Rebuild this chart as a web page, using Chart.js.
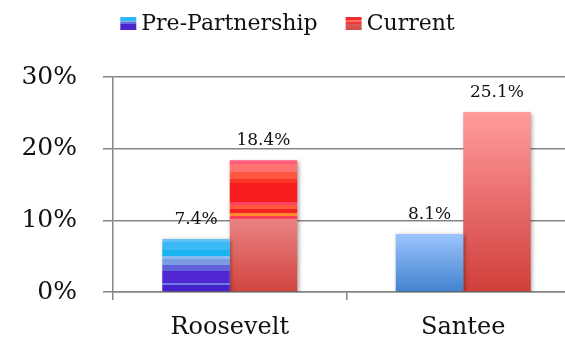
<!DOCTYPE html>
<html>
<head>
<meta charset="utf-8">
<script src="https://cdn.jsdelivr.net/npm/chart.js@4/dist/chart.umd.min.js"></script>
<style>
html, body { margin:0; padding:0; background:#fff; overflow:hidden; }
#contenedor { width:582px; height:338px; position:relative; }
</style>
</head>
<body>
<div id="contenedor"><canvas id="grafico"></canvas></div>
<script>

const escuelas = ["Roosevelt", "Santee"];

const nombresSeries = ["Pre-Partnership", "Current"];

const valoresAntes = [7.4, 8.1];

const valoresActual = [18.4, 25.1];

const marcasY = [0, 10, 20, 30];

const fuente = "\"DejaVu Serif\", serif";

// franjas de cada barra: [desde, hasta, color arriba, color abajo], 0 = tope de la barra
const franjasAntes = [
    [
        [0.00, 0.06, "#62c2f6"],
        [0.06, 0.21, "#3ab9f4"],
        [0.21, 0.33, "#1ab4f2"],
        [0.33, 0.37, "#86bcef"],
        [0.37, 0.50, "#7b9be3"],
        [0.50, 0.60, "#6060da"],
        [0.60, 0.83, "#5127d2"],
        [0.83, 0.87, "#6c7ee2"],
        [0.87, 1.00, "#4622cc"]
    ],
    [
        [0, 1, "#9cc4fc", "#4282d0"]
    ]
];

const franjasActual = [
    [
        [0.00, 0.03, "#ff5a7a"],
        [0.03, 0.09, "#ff7272"],
        [0.09, 0.14, "#ff5a40"],
        [0.14, 0.17, "#fd3428"],
        [0.17, 0.32, "#f71c1e"],
        [0.32, 0.34, "#ff4460"],
        [0.34, 0.37, "#ff5a3c"],
        [0.37, 0.40, "#f42222"],
        [0.40, 0.42, "#ff8a30"],
        [0.42, 0.45, "#ff3c5c"],
        [0.45, 1.00, "#ea8282", "#d0443f"]
    ],
    [
        [0, 1, "#ff9c9c", "#d03e3a"]
    ]
];

const franjasLeyenda = [
    [
        [0.00, 0.30, "#30b6f4"],
        [0.30, 0.40, "#80b0ee"],
        [0.40, 0.50, "#6a6cdc"],
        [0.50, 1.00, "#4a26ce"]
    ],
    [
        [0.00, 0.25, "#f52a2a"],
        [0.25, 0.35, "#ff6a6a"],
        [0.35, 0.55, "#f03a3a"],
        [0.55, 1.00, "#dc5a5a", "#d24a48"]
    ]
];

function gradienteFranjas(ctx, arriba, abajo, franjas){

    const g =
    ctx.createLinearGradient(0, arriba, 0, abajo);

    franjas.forEach(f => {
        g.addColorStop(f[0], f[2]);
        g.addColorStop(f[1], f[3] || f[2]);
    });

    return g;

}

function colorBarra(franjas, respaldo){

    return function(c){

        const chart = c.chart;

        if(!chart.chartArea || c.type !== "data"){
            return respaldo;
        }

        const y = chart.scales.y;

        return gradienteFranjas(
            chart.ctx,
            y.getPixelForValue(c.raw),
            y.getPixelForValue(0),
            franjas[c.dataIndex]
        );

    };

}

// sombra suave bajo las barras
const sombra = {
    id:"sombra",
    beforeDatasetDraw(chart){
        const ctx = chart.ctx;
        ctx.save();
        ctx.shadowColor = "rgba(0,0,0,0.35)";
        ctx.shadowBlur = 4;
        ctx.shadowOffsetX = 1.5;
        ctx.shadowOffsetY = 1.5;
    },
    afterDatasetDraw(chart){
        chart.ctx.restore();
    }
};

// porcentaje encima de cada barra
const etiquetas = {
    id:"etiquetas",
    afterDatasetsDraw(chart){

        const ctx = chart.ctx;

        ctx.save();
        ctx.font = `17px ${fuente}`;
        ctx.fillStyle = "#111";
        ctx.textAlign = "center";
        ctx.textBaseline = "alphabetic";

        chart.data.datasets.forEach((ds, i) => {
            chart.getDatasetMeta(i).data.forEach((barra, j) => {
                ctx.fillText(
                    ds.data[j].toFixed(1) + "%",
                    barra.x,
                    barra.y - 15
                );
            });
        });

        ctx.restore();

    }
};

// leyenda centrada arriba, con la caja pegada al texto
const leyenda = {
    id:"leyenda",
    afterDraw(chart){

        const ctx = chart.ctx;

        ctx.save();
        ctx.font = `22px ${fuente}`;
        ctx.textBaseline = "alphabetic";
        ctx.textAlign = "left";

        const caja = 16;
        const altoCaja = 13;
        const hueco = 5;
        const separacion = 28;
        const base = 30;

        const anchos =
        chart.data.datasets.map(ds => ctx.measureText(ds.label).width);

        const total =
        anchos.reduce((s, a) => s + caja + hueco + a, 0) +
        separacion * (anchos.length - 1);

        let x = 287.5 - total / 2;

        chart.data.datasets.forEach((ds, i) => {

            ctx.fillStyle =
            gradienteFranjas(ctx, base - altoCaja, base, franjasLeyenda[i]);

            ctx.fillRect(x, base - altoCaja, caja, altoCaja);

            x += caja + hueco;

            ctx.fillStyle = "#111";
            ctx.fillText(ds.label, x, base);

            x += anchos[i] + separacion;

        });

        ctx.restore();

    }
};

new Chart(

    document.getElementById("grafico"),

    {

        type:"bar",

        data:{

            labels:escuelas,

            datasets:[
                {
                    label:nombresSeries[0],
                    data:valoresAntes,
                    backgroundColor:colorBarra(franjasAntes, "#6a8fe0"),
                    borderWidth:0,
                    categoryPercentage:0.578,
                    barPercentage:1
                },
                {
                    label:nombresSeries[1],
                    data:valoresActual,
                    backgroundColor:colorBarra(franjasActual, "#e06060"),
                    borderWidth:0,
                    categoryPercentage:0.578,
                    barPercentage:1
                }
            ]

        },

        options:{

            responsive:true,
            maintainAspectRatio:false,
            animation:false,

            layout:{
                padding:{ top:77, right:2, bottom:0, left:0 }
            },

            plugins:{
                legend:{ display:false },
                tooltip:{ enabled:false }
            },

            scales:{

                x:{
                    grid:{
                        display:true,
                        drawOnChartArea:false,
                        drawTicks:true,
                        tickLength:8,
                        offset:true,
                        color:"#858585",
                        lineWidth:1.5
                    },
                    border:{ display:true, color:"#858585", width:1.5 },
                    ticks:{
                        font:{ family:fuente, size:24 },
                        color:"#111",
                        padding:13,
                        maxRotation:0
                    },
                    afterFit(s){ s.height = 46; }
                },

                y:{
                    min:0,
                    max:30,
                    afterBuildTicks(s){
                        s.ticks = marcasY.map(v => ({ value:v }));
                    },
                    grid:{
                        color:"#858585",
                        lineWidth:1.5,
                        tickLength:10
                    },
                    border:{ display:true, color:"#858585", width:1.5 },
                    ticks:{
                        font:{ family:fuente, size:25 },
                        color:"#111",
                        padding:26,
                        callback:v => v + "%"
                    },
                    afterFit(s){ s.width = 113; }
                }

            }

        },

        plugins:[sombra, etiquetas, leyenda]

    }

);

</script>
</body>
</html>
